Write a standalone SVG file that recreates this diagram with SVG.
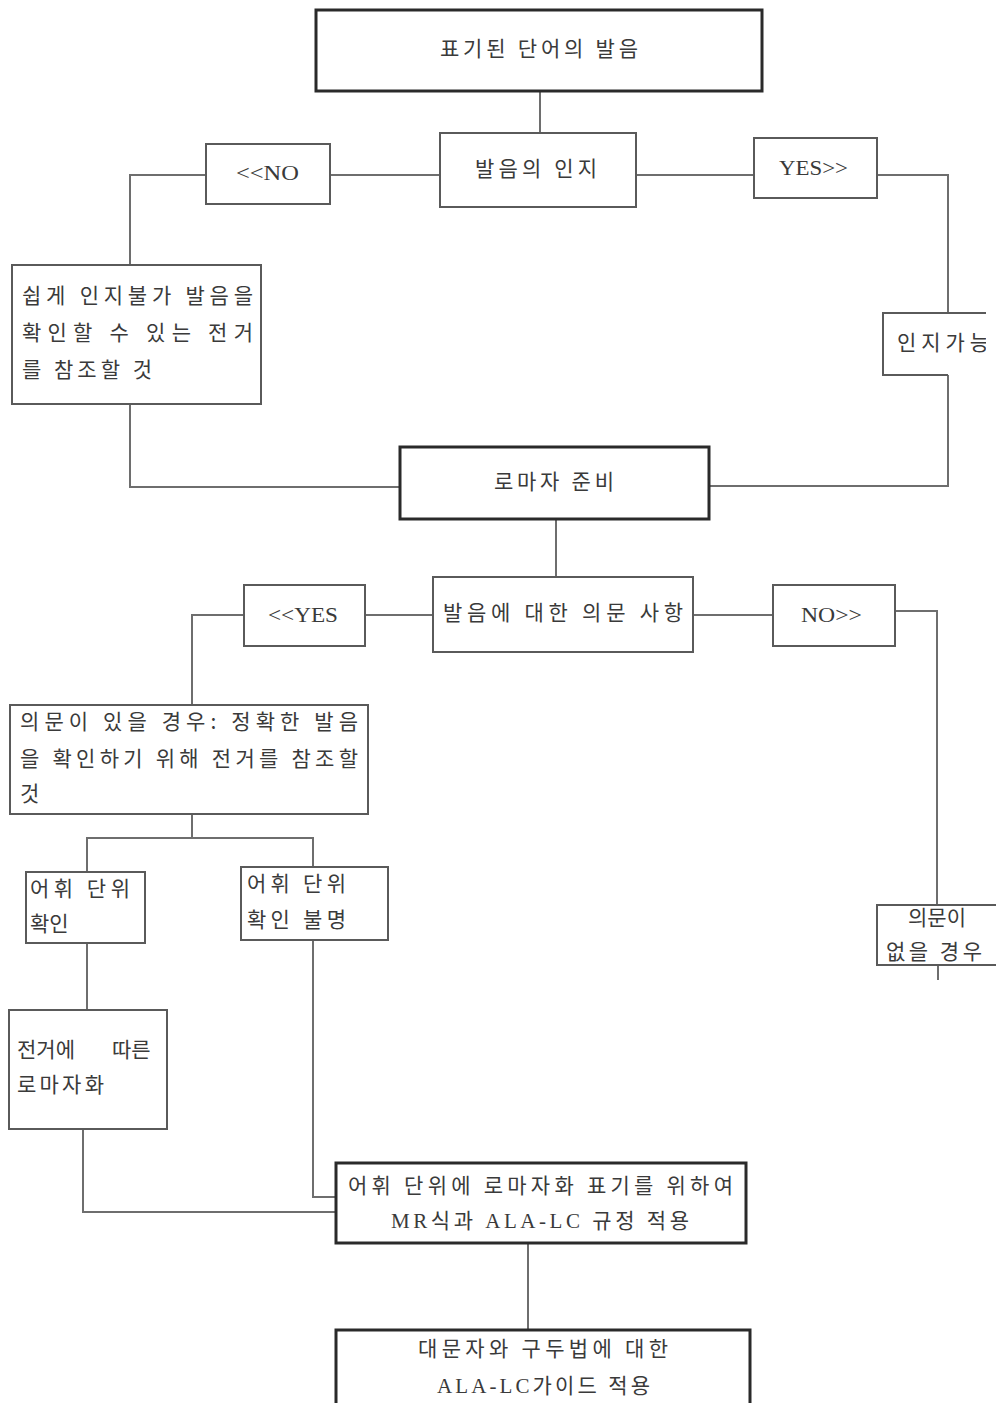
<svg xmlns="http://www.w3.org/2000/svg" width="996" height="1403" viewBox="0 0 996 1403">
<style>
.bg{fill:#ffffff}
.box{fill:#ffffff;stroke:#5a5a5a;stroke-width:2}
.thick{fill:#ffffff;stroke:#2a2a2a;stroke-width:3}
.ln{fill:none;stroke:#6e6e6e;stroke-width:2}
.t{font-family:"Noto Sans CJK KR","Noto Sans",sans-serif;font-size:21px;fill:#3a3a3a}
.s{font-family:"Liberation Serif","Noto Sans CJK KR",serif;font-size:21px;fill:#3a3a3a}
.m{text-anchor:middle}
</style>
<defs>
<clipPath id="clipR"><rect x="880" y="310" width="106" height="70"/></clipPath>
</defs>
<rect class="bg" x="0" y="0" width="996" height="1403"/>
<g id="connectors">
<line class="ln" x1="540" y1="91" x2="540" y2="133"/>
<line class="ln" x1="330" y1="175" x2="440" y2="175"/>
<line class="ln" x1="636" y1="175" x2="754" y2="175"/>
<polyline class="ln" points="206,175 130,175 130,265"/>
<polyline class="ln" points="877,175 948,175 948,313"/>
<polyline class="ln" points="948,375 948,486 709,486"/>
<polyline class="ln" points="130,404 130,487 400,487"/>
<line class="ln" x1="556" y1="519" x2="556" y2="577"/>
<line class="ln" x1="365" y1="615" x2="433" y2="615"/>
<line class="ln" x1="693" y1="615" x2="773" y2="615"/>
<polyline class="ln" points="244,615 192,615 192,705"/>
<polyline class="ln" points="895,611 937,611 937,905"/>
<line class="ln" x1="938" y1="965" x2="938" y2="980"/>
<polyline class="ln" points="192,814 192,838"/>
<polyline class="ln" points="87,872 87,838 313,838 313,867"/>
<line class="ln" x1="87" y1="943" x2="87" y2="1010"/>
<polyline class="ln" points="83,1129 83,1212 336,1212"/>
<polyline class="ln" points="313,940 313,1197 336,1197"/>
<line class="ln" x1="528" y1="1243" x2="528" y2="1330"/>
</g>
<g id="n1">
<rect class="thick" x="316" y="10" width="446" height="81"/>
<text class="t" x="440" y="56" textLength="198" lengthAdjust="spacing">표기된 단어의 발음</text>
</g>
<g id="n2">
<rect class="box" x="440" y="133" width="196" height="74"/>
<text class="t" x="475" y="176" textLength="122" lengthAdjust="spacing">발음의 인지</text>
</g>
<g id="n3">
<rect class="box" x="206" y="144" width="124" height="60"/>
<text class="s" x="236" y="180" textLength="63" lengthAdjust="spacingAndGlyphs">&lt;&lt;NO</text>
</g>
<g id="n4">
<rect class="box" x="754" y="138" width="123" height="60"/>
<text class="s" x="779" y="175" textLength="69" lengthAdjust="spacingAndGlyphs">YES&gt;&gt;</text>
</g>
<g id="n5">
<rect class="box" x="12" y="265" width="249" height="139"/>
<text class="t" x="22" y="303" textLength="231" lengthAdjust="spacing">쉽게 인지불가 발음을</text>
<text class="t" x="22" y="340" textLength="231" lengthAdjust="spacing">확인할 수 있는 전거</text>
<text class="t" x="22" y="377" textLength="130" lengthAdjust="spacing">를 참조할 것</text>
</g>
<g id="n6">
<polyline class="box" points="986,313 883,313 883,375 948,375"/>
<text class="t" x="897" y="350" clip-path="url(#clipR)" textLength="92" lengthAdjust="spacing">인지가능</text>
</g>
<g id="n7">
<rect class="thick" x="400" y="447" width="309" height="72"/>
<text class="t" x="494" y="489" textLength="120" lengthAdjust="spacing">로마자 준비</text>
</g>
<g id="n8">
<rect class="box" x="433" y="577" width="260" height="75"/>
<text class="t" x="443" y="620" textLength="240" lengthAdjust="spacing">발음에 대한 의문 사항</text>
</g>
<g id="n9">
<rect class="box" x="244" y="585" width="121" height="61"/>
<text class="s" x="268" y="622" textLength="70" lengthAdjust="spacingAndGlyphs">&lt;&lt;YES</text>
</g>
<g id="n10">
<rect class="box" x="773" y="585" width="122" height="61"/>
<text class="s" x="801" y="622" textLength="61" lengthAdjust="spacingAndGlyphs">NO&gt;&gt;</text>
</g>
<g id="n11">
<rect class="box" x="10" y="705" width="358" height="109"/>
<text class="t" x="20" y="729" textLength="338" lengthAdjust="spacing">의문이 있을 경우: 정확한 발음</text>
<text class="t" x="20" y="766" textLength="338" lengthAdjust="spacing">을 확인하기 위해 전거를 참조할</text>
<text class="t" x="20" y="801">것</text>
</g>
<g id="n12">
<rect class="box" x="26" y="872" width="119" height="71"/>
<text class="t" x="30" y="896" textLength="100" lengthAdjust="spacing">어휘 단위</text>
<text class="t" x="30" y="931">확인</text>
</g>
<g id="n13">
<rect class="box" x="241" y="867" width="147" height="73"/>
<text class="t" x="247" y="891" textLength="99" lengthAdjust="spacing">어휘 단위</text>
<text class="t" x="247" y="927" textLength="99" lengthAdjust="spacing">확인 불명</text>
</g>
<g id="n14">
<polyline class="box" points="996,905 877,905 877,965 996,965"/>
<text class="t m" x="937" y="925">의문이</text>
<text class="t" x="886" y="959" textLength="96" lengthAdjust="spacing">없을 경우</text>
</g>
<g id="n15">
<rect class="box" x="9" y="1010" width="158" height="119"/>
<text class="t" x="17" y="1057">전거에</text>
<text class="t" x="112" y="1057">따른</text>
<text class="t" x="17" y="1092" textLength="87" lengthAdjust="spacing">로마자화</text>
</g>
<g id="n16">
<rect class="thick" x="336" y="1163" width="410" height="80"/>
<text class="t" x="348" y="1193" textLength="385" lengthAdjust="spacing">어휘 단위에 로마자화 표기를 위하여</text>
<text class="s" x="391" y="1228" textLength="298" lengthAdjust="spacing">MR식과 ALA-LC 규정 적용</text>
</g>
<g id="n17">
<polyline class="thick" points="336,1403 336,1330 750,1330 750,1403"/>
<text class="t" x="418" y="1356" textLength="250" lengthAdjust="spacing">대문자와 구두법에 대한</text>
<text class="s" x="437" y="1393" textLength="213" lengthAdjust="spacing">ALA-LC가이드 적용</text>
</g>
</svg>
